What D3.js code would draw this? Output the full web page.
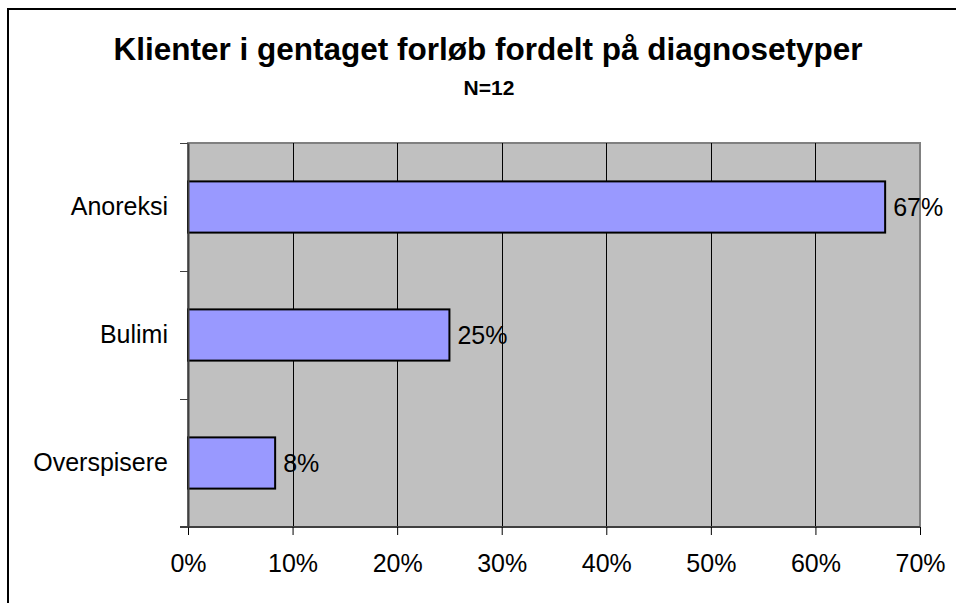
<!DOCTYPE html>
<html>
<head>
<meta charset="utf-8">
<script src="https://cdn.jsdelivr.net/npm/d3@7"></script>
<style>
  body { margin: 0; background: #fff; }
  text { font-family: Arial, "Liberation Sans", sans-serif; fill: #000; }
</style>
</head>
<body>
<svg id="chart" width="956" height="603"></svg>
<script>
// data
var title = "Klienter i gentaget forløb fordelt på diagnosetyper"
var subtitle = "N=12"
var categories = ["Anoreksi", "Bulimi", "Overspisere"]
var counts = [8, 3, 1]
var total = 12
var xTicks = [0, 0.1, 0.2, 0.3, 0.4, 0.5, 0.6, 0.7]

var dataset = categories.map(function (c, i) { return { cat: c, share: counts[i] / total } })

var dims = { left: 188, right: 920, top: 143, bottom: 527 }

var svg = d3.select("#chart")

// outer chart frame (runs off the right and bottom edges)
svg.append("rect")
  .attr("x", 8).attr("y", 9)
  .attr("width", 1000).attr("height", 700)
  .attr("fill", "#fff")
  .attr("stroke", "#000")
  .attr("stroke-width", 2)

var x = d3.scaleLinear().domain([0, 0.7]).range([dims.left, dims.right])
var yCat = d3.scaleBand().domain(categories).range([dims.top, dims.bottom])
var y = d3.scaleBand().domain(categories).range([dims.top, dims.bottom])
  .paddingInner(0.6).paddingOuter(0.3)

// plot area
svg.append("rect")
  .attr("x", dims.left).attr("y", dims.top)
  .attr("width", dims.right - dims.left).attr("height", dims.bottom - dims.top)
  .attr("fill", "#c0c0c0")
  .attr("stroke", "#808080")
  .attr("stroke-width", 2)

// gridlines
svg.append("g").selectAll("line")
  .data(xTicks.slice(1, -1))
  .enter().append("line")
  .attr("x1", function (d) { return Math.round(x(d)) + 0.5 })
  .attr("x2", function (d) { return Math.round(x(d)) + 0.5 })
  .attr("y1", dims.top).attr("y2", dims.bottom)
  .attr("stroke", "#000").attr("stroke-width", 1)

// bars
svg.append("g").selectAll("rect")
  .data(dataset)
  .enter().append("rect")
  .attr("x", x(0))
  .attr("y", function (d) { return y(d.cat) })
  .attr("width", function (d) { return x(d.share) - x(0) })
  .attr("height", y.bandwidth())
  .attr("fill", "#9999ff")
  .attr("stroke", "#000")
  .attr("stroke-width", 2)

// value labels
svg.append("g").selectAll("text")
  .data(dataset)
  .enter().append("text")
  .attr("x", function (d) { return x(d.share) + 8 })
  .attr("y", function (d) { return y(d.cat) + y.bandwidth() / 2 })
  .attr("dy", "0.35em")
  .style("font-size", "25px")
  .text(function (d) { return Math.round(d.share * 100) + "%" })

// x axis
var xAxis = svg.append("g")
  .attr("transform", "translate(0," + dims.bottom + ")")
  .call(d3.axisBottom(x).tickValues(xTicks).tickFormat(d3.format(".0%"))
    .tickSize(8).tickSizeOuter(0).tickPadding(19))
xAxis.selectAll("text").style("font-size", "25px").attr("fill", "#000")
xAxis.selectAll("line").attr("stroke", "#000")
xAxis.select(".domain").attr("stroke", "#404040").attr("stroke-width", 2)
  .attr("d", "M" + (dims.left - 8) + ",0H" + dims.right)

// y axis: labels centred on bands, ticks on band boundaries
var yAxis = svg.append("g")
  .attr("transform", "translate(" + dims.left + ",0)")
  .call(d3.axisLeft(yCat).tickSize(0).tickPadding(20))
yAxis.selectAll("text").style("font-size", "25px").attr("fill", "#000")
yAxis.select(".domain").attr("stroke", "#404040").attr("stroke-width", 2)

var bounds = categories.map(function (c) { return yCat(c) }).concat([dims.bottom])
svg.append("g").selectAll("line")
  .data(bounds)
  .enter().append("line")
  .attr("x1", dims.left - 8).attr("x2", dims.left)
  .attr("y1", function (d) { return Math.round(d) + 0.5 })
  .attr("y2", function (d) { return Math.round(d) + 0.5 })
  .attr("stroke", "#404040").attr("stroke-width", 1)

// titles
svg.append("text")
  .attr("x", 488).attr("y", 60)
  .attr("text-anchor", "middle")
  .style("font-size", "31.5px").style("font-weight", "bold")
  .text(title)

svg.append("text")
  .attr("x", 489).attr("y", 95)
  .attr("text-anchor", "middle")
  .style("font-size", "21px").style("font-weight", "bold")
  .text(subtitle)
</script>
</body>
</html>
